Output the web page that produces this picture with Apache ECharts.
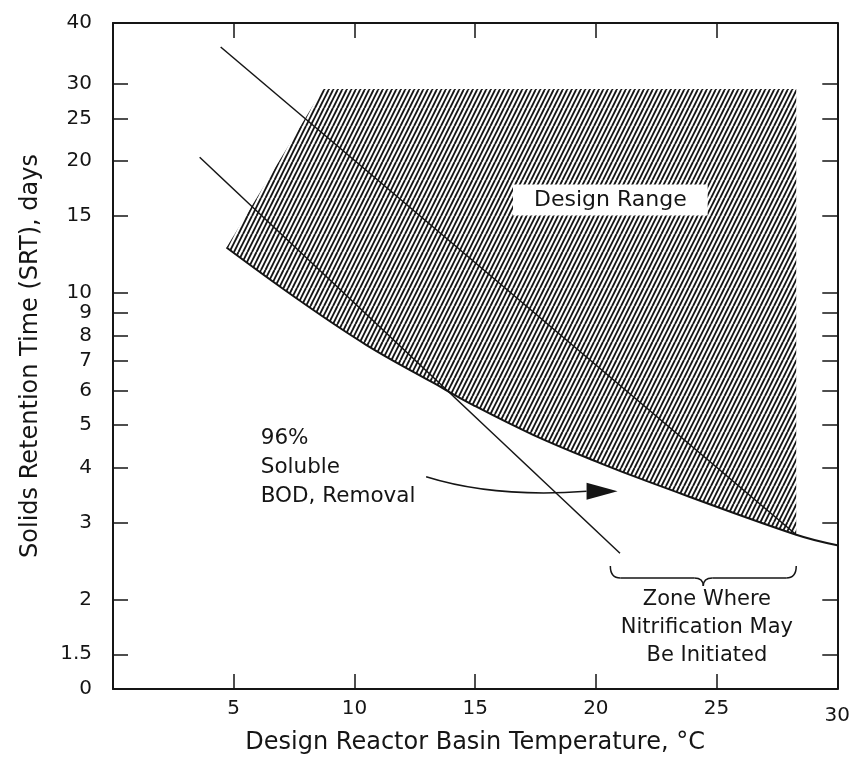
<!DOCTYPE html>
<html><head><meta charset="utf-8">
<script src="https://cdn.jsdelivr.net/npm/echarts@6/dist/echarts.min.js"></script>
<style>html,body{margin:0;padding:0;background:#fff}#c{width:853px;height:762px}</style>
</head><body><div id="c"></div>
<script>
// ---- data ----
const xTicks = [5, 10, 15, 20, 25];
const xLabelValues = [5, 10, 15, 20, 25, 30];
const yTicks = [1.5, 2, 3, 4, 5, 6, 7, 8, 9, 10, 15, 20, 25, 30];
const yLabelValues = [1.25, 1.5, 2, 3, 4, 5, 6, 7, 8, 9, 10, 15, 20, 25, 30, 41.3];
const yMin = 1.25, yMax = 41.3;
const xMin = 0, xMax = 30;
// design range (hatched) upper boundary: left slanted edge and top edge
const designTop = [[4.7, 12.7], [8.7, 29.2], [28.3, 29.2]];
// lower boundary curve of the design range (continues to the right frame)
const lowerCurve = [[4.7, 12.7], [7.7, 9.64], [10.5, 7.61], [13.2, 6.27], [14.9, 5.56], [17.4, 4.75], [20.15, 4.10], [22.2, 3.71], [28.3, 2.81], [30, 2.66]];
// straight lines
const srtLine = [[4.46, 36.4], [28.3, 2.81]];
const bodLine = [[3.59, 20.4], [21.0, 2.55]];
// curved arrow: start, control 1, control 2, tip
const arrowPath = [[12.97, 3.81], [14.75, 3.55], [16.8, 3.44], [20.9, 3.53]];
// brace: left x, right x, top y
const brace = [20.6, 28.3, 2.385];
// annotation texts: [x, y, text]
const designRangeLabel = [20.6, 16.3, 'Design Range'];
const bodLabel = [6.12, 4.0, '96%\nSoluble\nBOD, Removal'];
const zoneLabel = [24.6, 1.73, 'Zone Where\nNitrification May\nBe Initiated'];

const FONT = '"DejaVu Sans", "Liberation Sans", Arial, sans-serif';
const INK = '#151515';

// hatch pattern
function makeHatch() {
  const c = document.createElement('canvas');
  const w = 9, h = 18;
  c.width = w; c.height = h;
  const g = c.getContext('2d');
  g.fillStyle = '#fff'; g.fillRect(0, 0, w, h);
  g.strokeStyle = INK; g.lineWidth = 1.9;
  for (let k = -2; k <= 3; k++) {
    const x0 = k * 4.5;
    g.beginPath(); g.moveTo(x0, h); g.lineTo(x0 + w, 0); g.stroke();
  }
  return c;
}

const chart = echarts.init(document.getElementById('c'), null, {renderer: 'canvas'});

function yFmt(v) {
  if (v < 1.3) return '0';
  if (v > 40.5) return '40';
  return String(v);
}

const axisLineStyle = {onZero: false, lineStyle: {color: INK, width: 2}};
const tickStyle = {inside: true, length: 15, lineStyle: {color: INK, width: 1.5}};

const option = {
  animation: false,
  backgroundColor: '#fff',
  grid: {left: 113, right: 13, top: 23, bottom: 73},
  xAxis: [{
    type: 'value', min: xMin, max: xMax, position: 'bottom',
    axisLine: axisLineStyle,
    axisTick: Object.assign({customValues: xTicks}, tickStyle),
    axisLabel: {customValues: xLabelValues, color: INK, fontFamily: FONT, fontSize: 20, margin: 10,
      formatter: v => v === 30 ? '{l|30}' : String(v),
      rich: {l: {fontFamily: FONT, fontSize: 20, color: INK, padding: [7, 0, 0, 0]}}},
    splitLine: {show: false},
    name: 'Design Reactor Basin Temperature, °C', nameLocation: 'middle', nameGap: 42,
    nameTextStyle: {color: INK, fontFamily: FONT, fontSize: 24}
  }, {
    type: 'value', min: xMin, max: xMax, position: 'top',
    axisLine: axisLineStyle,
    axisTick: Object.assign({customValues: xTicks}, tickStyle),
    axisLabel: {show: false}, splitLine: {show: false}
  }],
  yAxis: [{
    type: 'log', logBase: 10, min: yMin, max: yMax, position: 'left',
    axisLine: axisLineStyle,
    axisTick: Object.assign({customValues: yTicks}, tickStyle),
    minorTick: {show: false},
    axisLabel: {customValues: yLabelValues, formatter: yFmt, color: INK, fontFamily: FONT, fontSize: 20, margin: 21,
      showMinLabel: true, showMaxLabel: true},
    splitLine: {show: false}, minorSplitLine: {show: false},
    name: 'Solids Retention Time (SRT), days', nameLocation: 'middle', nameGap: 70,
    nameTextStyle: {color: INK, fontFamily: FONT, fontSize: 24}
  }, {
    type: 'log', logBase: 10, min: yMin, max: yMax, position: 'right',
    axisLine: axisLineStyle,
    axisTick: Object.assign({customValues: yTicks}, tickStyle),
    axisLabel: {show: false}, splitLine: {show: false}
  }],
  series: [
    {
      name: 'Design Range', type: 'line', data: designTop, z: -3, silent: true,
      showSymbol: false, symbol: 'none', lineStyle: {width: 0, opacity: 0},
      areaStyle: {color: {image: makeHatch(), repeat: 'repeat'}, opacity: 1, origin: 'start'}
    },
    {
      name: 'seam', type: 'custom', data: [0], z: -2, silent: true,
      renderItem: function (params, api) {
        const a = api.coord(lowerCurve[0]);
        const b = api.coord([lowerCurve[0][0], yMin]);
        return {type: 'line', shape: {x1: a[0], y1: a[1], x2: b[0], y2: b[1]}, style: {stroke: '#fff', lineWidth: 3}};
      }
    },
    {
      name: 'Minimum SRT', type: 'line', data: lowerCurve, z: -1, smooth: 0.4, silent: true,
      showSymbol: false, symbol: 'none', lineStyle: {color: INK, width: 2},
      areaStyle: {color: '#fff', opacity: 1, origin: 'start'}
    },
    {
      name: 'SRT line', type: 'line', data: srtLine, showSymbol: false, symbol: 'none', silent: true,
      lineStyle: {color: INK, width: 1.5}
    },
    {
      name: '96% BOD', type: 'line', data: bodLine, showSymbol: false, symbol: 'none', silent: true,
      lineStyle: {color: INK, width: 1.5}
    },
    {
      name: 'annotations', type: 'custom', data: [0], silent: true, z: 5,
      renderItem: function (params, api) {
        const p = arrowPath.map(d => api.coord(d));
        const tip = p[3];
        const headLen = 31, headHalf = 8.5;
        const bx = tip[0] - headLen, by = tip[1];
        const L = api.coord([brace[0], brace[2]]);
        const R = api.coord([brace[1], brace[2]]);
        const xc = (L[0] + R[0]) / 2, y0 = L[1], y1 = y0 + 12, y2 = y0 + 20;
        const bs = {stroke: INK, lineWidth: 1.5, fill: null};
        const dr = api.coord([designRangeLabel[0], designRangeLabel[1]]);
        const bl = api.coord([bodLabel[0], bodLabel[1]]);
        const zl = api.coord([zoneLabel[0], zoneLabel[1]]);
        return {type: 'group', children: [
          {type: 'bezierCurve', shape: {x1: p[0][0], y1: p[0][1], cpx1: p[1][0], cpy1: p[1][1], cpx2: p[2][0], cpy2: p[2][1], x2: bx, y2: by}, style: bs},
          {type: 'polygon', shape: {points: [tip, [bx, by - headHalf], [bx, by + headHalf]]}, style: {fill: INK}},
          {type: 'bezierCurve', shape: {x1: L[0], y1: y0, cpx1: L[0], cpy1: y1, x2: L[0] + 10, y2: y1}, style: bs},
          {type: 'line', shape: {x1: L[0] + 10, y1: y1, x2: xc - 9, y2: y1}, style: bs},
          {type: 'bezierCurve', shape: {x1: xc - 9, y1: y1, cpx1: xc, cpy1: y1, x2: xc, y2: y2}, style: bs},
          {type: 'bezierCurve', shape: {x1: xc, y1: y2, cpx1: xc, cpy1: y1, x2: xc + 9, y2: y1}, style: bs},
          {type: 'line', shape: {x1: xc + 9, y1: y1, x2: R[0] - 10, y2: y1}, style: bs},
          {type: 'bezierCurve', shape: {x1: R[0] - 10, y1: y1, cpx1: R[0], cpy1: y1, x2: R[0], y2: y0}, style: bs},
          {type: 'text', x: dr[0], y: dr[1], style: {text: designRangeLabel[2], fill: INK, fontFamily: FONT, fontSize: 22,
            align: 'center', verticalAlign: 'middle', backgroundColor: '#fff', padding: [5, 21, 4, 21]}},
          {type: 'text', x: bl[0], y: bl[1], style: {text: bodLabel[2], fill: INK, fontFamily: FONT, fontSize: 21.5,
            lineHeight: 29, align: 'left', verticalAlign: 'middle'}},
          {type: 'text', x: zl[0], y: zl[1], style: {text: zoneLabel[2], fill: INK, fontFamily: FONT, fontSize: 21,
            lineHeight: 28, align: 'center', verticalAlign: 'middle'}}
        ]};
      }
    }
  ]
};
chart.setOption(option);
</script>
</body></html>
